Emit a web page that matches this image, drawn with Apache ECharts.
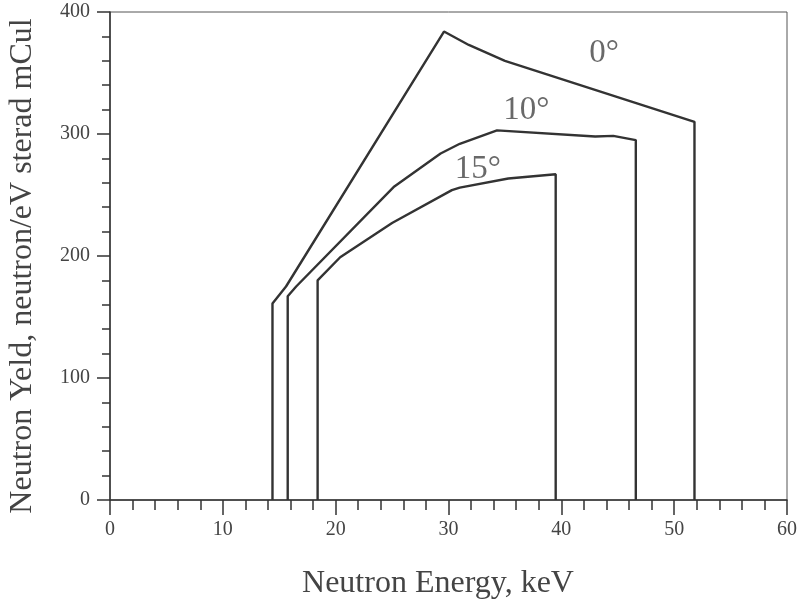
<!DOCTYPE html>
<html>
<head>
<meta charset="utf-8">
<script src="https://cdn.jsdelivr.net/npm/echarts@6/dist/echarts.min.js"></script>
<style>
  html, body { margin: 0; padding: 0; background: #fff; }
  #chart { width: 800px; height: 605px; }
</style>
</head>
<body>
<div id="chart"></div>
<script>
// neutron energy (keV) / yield pairs, one array per angle
var deg0 = [[14.4, 0], [14.4, 161], [15.6, 175], [29.6, 384], [31.8, 373], [35.0, 360], [51.8, 310], [51.8, 0]];
var deg10 = [[15.75, 0], [15.75, 167], [16.5, 175], [25.2, 257], [29.3, 284], [31.0, 292], [34.3, 303], [43.0, 298], [44.6, 298.5], [46.6, 295], [46.6, 0]];
var deg15 = [[18.4, 0], [18.4, 180], [20.4, 199], [25.0, 227], [30.3, 254], [31.0, 256], [35.3, 263.5], [39.5, 267], [39.5, 0]];
var angleNames = ['0°', '10°', '15°'];
// where the angle labels sit, in data units
var labelSpots = [[43.8, 366], [36.9, 319], [32.6, 271]];

var serif = "'Liberation Serif', 'Times New Roman', serif";
var ink = '#333';
var textGrey = '#444';

var chart = echarts.init(document.getElementById('chart'));

function curve(name, data) {
    return {
        name: name,
        type: 'line',
        data: data,
        symbol: 'none',
        lineStyle: { color: ink, width: 2.4 },
        z: 3
    };
}

chart.setOption({
    animation: false,
    grid: { left: 110, right: 12, top: 12, bottom: 105, show: true, borderColor: '#555', borderWidth: 1 },
    xAxis: {
        type: 'value',
        min: 0, max: 60, interval: 10,
        axisLine: { lineStyle: { color: ink, width: 1.5 } },
        axisTick: { inside: false, length: 15, lineStyle: { color: ink, width: 1.5 } },
        minorTick: { show: true, splitNumber: 5, length: 10, lineStyle: { color: ink, width: 1.5 } },
        axisLabel: { fontFamily: serif, fontSize: 20, color: textGrey, margin: 20 },
        splitLine: { show: false }
    },
    yAxis: {
        type: 'value',
        min: 0, max: 400, interval: 100,
        axisLine: { show: true, lineStyle: { color: ink, width: 1.5 } },
        axisTick: { show: true, inside: false, length: 13, lineStyle: { color: ink, width: 1.5 } },
        minorTick: { show: true, splitNumber: 5, length: 8, lineStyle: { color: ink, width: 1.5 } },
        axisLabel: { fontFamily: serif, fontSize: 20, color: textGrey, margin: 20 },
        splitLine: { show: false }
    },
    graphic: [{
        type: 'text',
        x: 23, y: 266,
        rotation: Math.PI / 2,
        style: {
            text: 'Neutron Yeld, neutron/eV sterad mCul',
            font: '32px ' + serif,
            fill: textGrey,
            align: 'center',
            verticalAlign: 'middle'
        }
    }, {
        type: 'text',
        x: 438, y: 584,
        style: {
            text: 'Neutron Energy, keV',
            font: '32px ' + serif,
            fill: textGrey,
            align: 'center',
            verticalAlign: 'middle'
        }
    }],
    series: [
        curve(angleNames[0], deg0),
        curve(angleNames[1], deg10),
        curve(angleNames[2], deg15),
        {
            type: 'scatter',
            symbolSize: 0,
            silent: true,
            data: labelSpots.map(function (p, i) { return { value: p, name: angleNames[i] }; }),
            label: {
                show: true,
                position: 'inside',
                formatter: '{b}',
                fontFamily: serif,
                fontSize: 33,
                color: textGrey
            }
        }
    ]
});
</script>
</body>
</html>
